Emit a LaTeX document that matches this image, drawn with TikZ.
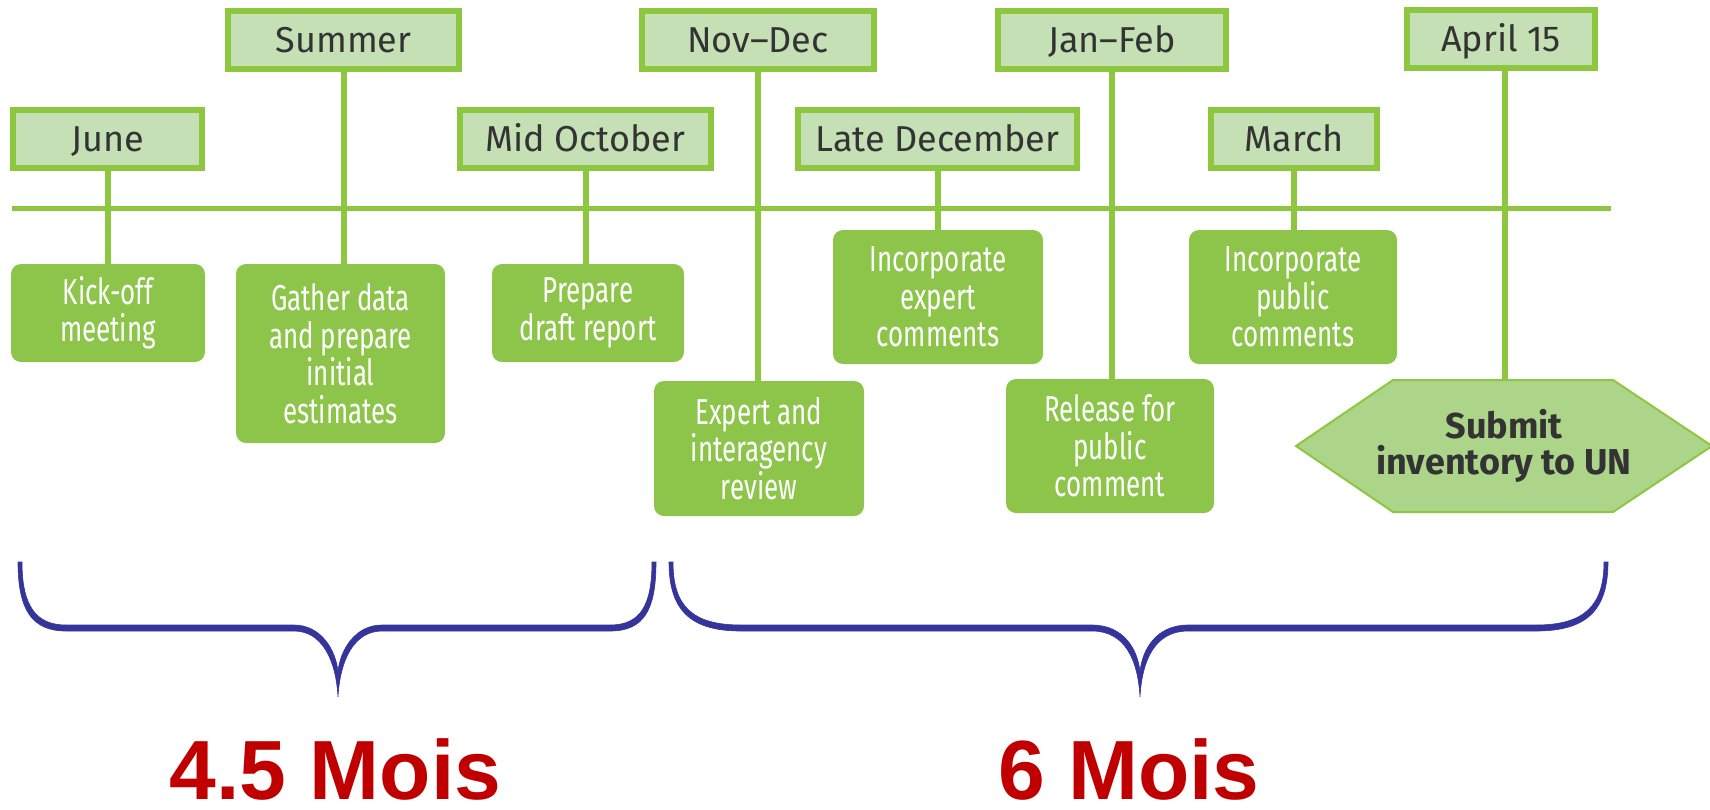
\documentclass[tikz,border=0pt]{standalone}
\usepackage{fontspec}
\setmainfont{Fira Sans}
\newfontfamily\condfont[FakeStretch=0.72]{Fira Sans}
\newfontfamily\bigfont{Liberation Sans}
\definecolor{lineGreen}{HTML}{8DC63F}
\definecolor{dateFill}{HTML}{C5E0B4}
\definecolor{taskFill}{HTML}{8DC54B}
\definecolor{hexFill}{HTML}{ADD58A}
\definecolor{textGray}{HTML}{333333}
\definecolor{braceBlue}{HTML}{34349A}
\definecolor{moisRed}{HTML}{C00000}
\begin{document}
\begin{tikzpicture}[x=1pt,y=-1pt,
  datebox/.style={draw=lineGreen, line width=6pt, fill=dateFill, inner sep=0pt,
    minimum height=58pt, text height=25pt, text depth=0pt, text=textGray,
    font=\fontsize{36}{38}\selectfont},
  taskbox/.style={fill=taskFill, rounded corners=10pt, inner sep=0pt, text=white,
    align=center, font=\condfont\fontsize{36}{37.5}\selectfont},
  conn/.style={draw=lineGreen, line width=6pt},
  axis/.style={draw=lineGreen, line width=5pt},
  hexshape/.style={draw=lineGreen, line width=2pt, fill=hexFill},
  bracefill/.style={fill=braceBlue, draw=braceBlue, line width=0.6pt},
  bigtext/.style={text=moisRed, font=\bigfont\bfseries\fontsize{84}{90}\selectfont, inner sep=0pt}
]
\useasboundingbox (0,0) rectangle (1710,809);

% timeline axis
\coordinate (axL) at (12,208.5);
\coordinate (axR) at (1611,208.5);

% date boxes
\node[datebox, minimum width=231pt] (summer) at (343.5,40) {Summer};
\node[datebox, minimum width=232pt] (novdec) at (758,40) {Nov–Dec};
\node[datebox, minimum width=228pt] (janfeb) at (1112,40) {Jan–Feb};
\node[datebox, minimum width=188pt] (april) at (1501,39) {April 15};
\node[datebox, minimum width=189pt] (june) at (107.5,138.5) {June};
\node[datebox, minimum width=251pt] (midoct) at (585.5,138.5) {Mid October};
\node[datebox, minimum width=279pt] (latedec) at (937.5,138.5) {Late December};
\node[datebox, minimum width=166pt] (march) at (1294,138.5) {March};

% task boxes
\node[taskbox, minimum width=194pt, minimum height=98pt] (kick) at (108,313) {Kick-off\\meeting};
\node[taskbox, minimum width=209pt, minimum height=179pt] (gather) at (340.5,353.5) {Gather data\\and prepare\\initial\\estimates};
\node[taskbox, minimum width=192pt, minimum height=98pt] (prep) at (588,313) {Prepare\\draft report};
\node[taskbox, minimum width=210pt, minimum height=135pt] (expert) at (759,448.5) {Expert and\\interagency\\review};
\node[taskbox, minimum width=210pt, minimum height=134pt] (incexp) at (938,297) {Incorporate\\expert\\comments};
\node[taskbox, minimum width=208pt, minimum height=134pt] (release) at (1110,446) {Release for\\public\\comment};
\node[taskbox, minimum width=208pt, minimum height=134pt] (incpub) at (1293,297) {Incorporate\\public\\comments};

% submit hexagon
\draw[hexshape] (1296,446) -- (1393,380) -- (1613,380) -- (1712,446) -- (1613,512) -- (1393,512) -- cycle;
\coordinate (hextop) at (1505,380);
\node[text=textGray, align=center, font=\bfseries\fontsize{36}{36}\selectfont, inner sep=0pt] (submit) at (1504,446) {Submit\\inventory to UN};

% connectors
\draw[axis] (axL) -- (axR);
\draw[conn] (june.south) -- (june.south |- kick.north);
\draw[conn] (summer.south) -- (summer.south |- gather.north);
\draw[conn] (midoct.south) -- (midoct.south |- prep.north);
\draw[conn] (novdec.south) -- (novdec.south |- expert.north);
\draw[conn] (latedec.south) -- (latedec.south |- incexp.north);
\draw[conn] (janfeb.south) -- (janfeb.south |- release.north);
\draw[conn] (march.south) -- (march.south |- incpub.north);
\draw[conn] (april.south -| hextop) -- (hextop);

% braces
\fill[bracefill] (18,562) .. controls (18,610) and (32,631) .. (66,631) -- (294,631)
  .. controls (322,631) and (336,660) .. (338,697)
  .. controls (340,660) and (354,631) .. (382,631) -- (610,631)
  .. controls (644,631) and (656,610) .. (656,562) -- (652,562)
  .. controls (652,606) and (640,625) .. (610,625) -- (382,625)
  .. controls (355,625) and (340,650) .. (338,672)
  .. controls (336,650) and (321,625) .. (294,625) -- (66,625)
  .. controls (36,625) and (22,606) .. (22,562) -- cycle;
\fill[bracefill] (669,562) .. controls (669,610) and (690,631) .. (741,631) -- (1092,631)
  .. controls (1125,631) and (1138,660) .. (1140,697)
  .. controls (1142,660) and (1155,631) .. (1188,631) -- (1536,631)
  .. controls (1587,631) and (1608,610) .. (1608,562) -- (1604,562)
  .. controls (1604,606) and (1584,625) .. (1536,625) -- (1188,625)
  .. controls (1156,625) and (1142,650) .. (1140,672)
  .. controls (1138,650) and (1124,625) .. (1092,625) -- (741,625)
  .. controls (692,625) and (673,606) .. (673,562) -- cycle;

% durations
\node[bigtext, anchor=base] (mois1) at (335.5,799) {4.5 Mois};
\node[bigtext, anchor=base] (mois2) at (1129,799) {6 Mois};
\end{tikzpicture}
\end{document}
